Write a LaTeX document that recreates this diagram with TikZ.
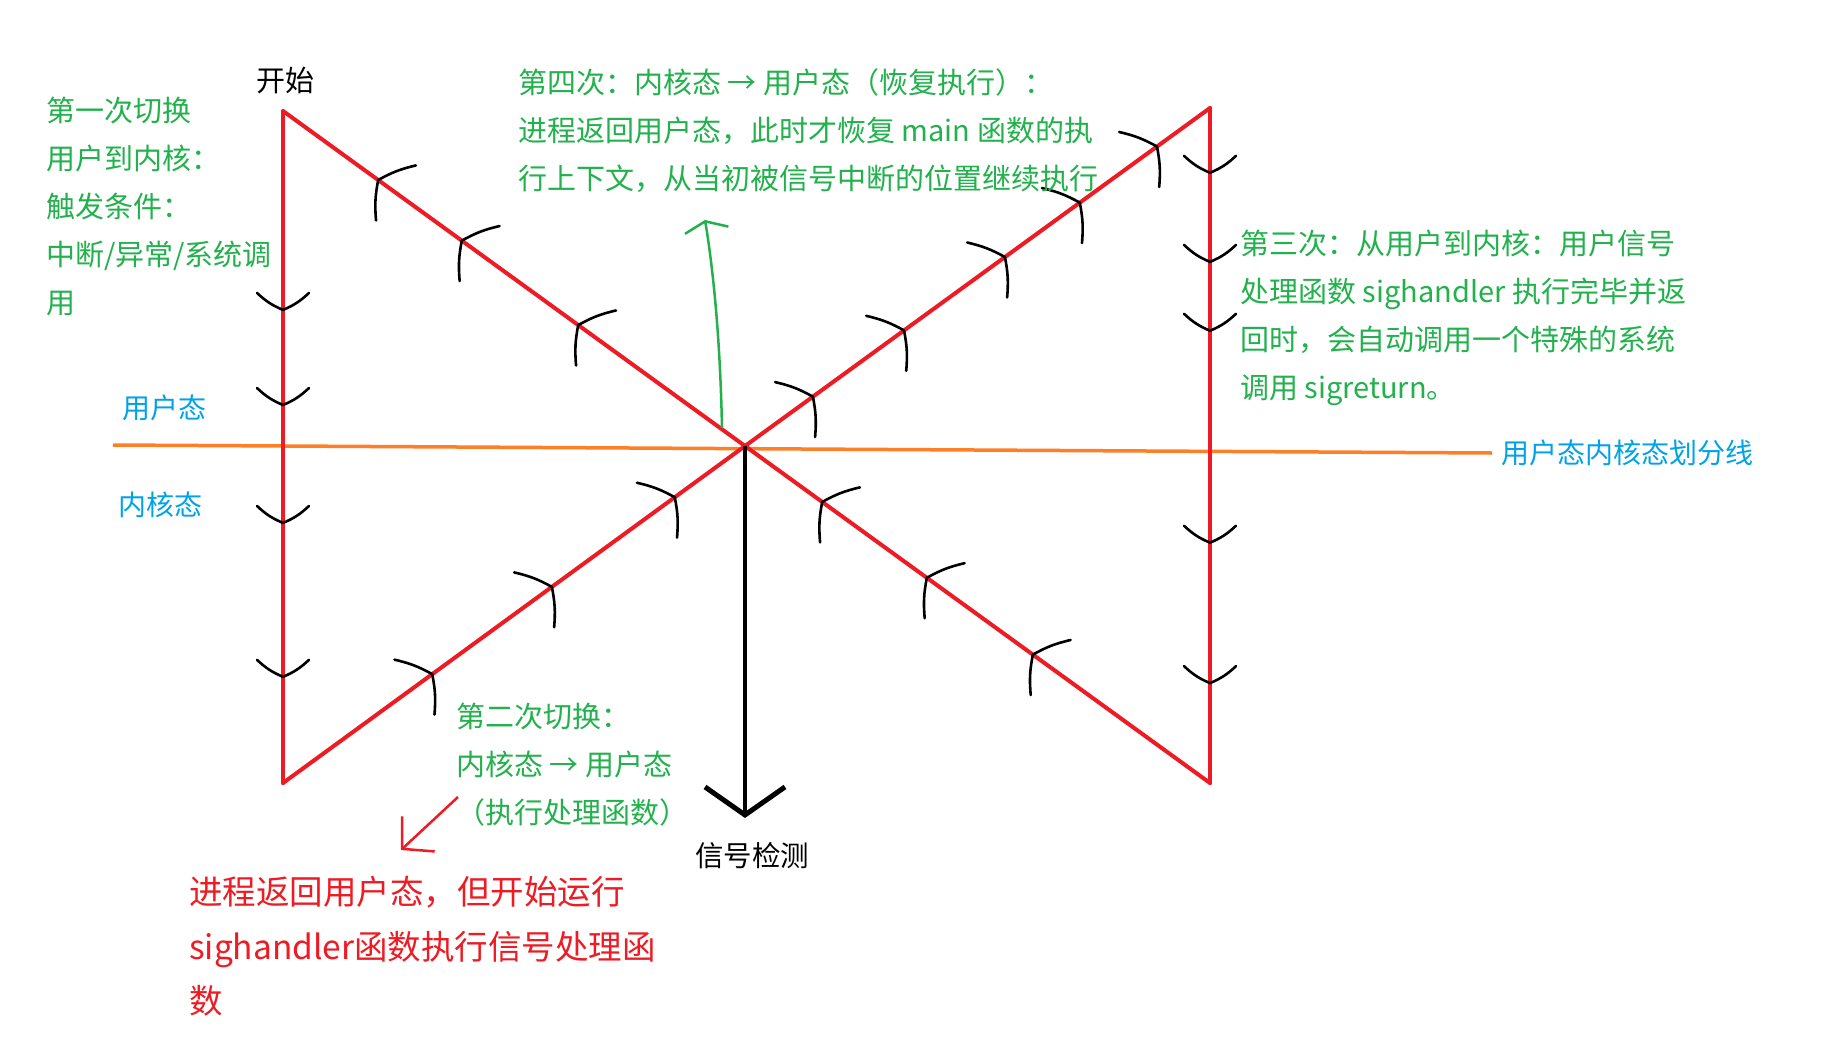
\documentclass[tikz,border=0pt]{standalone}
\usepackage{fontspec}
\setmainfont{Noto Sans CJK SC}
\usepackage{xcolor}
\definecolor{cRed}{HTML}{ED1C24}
\definecolor{cGreen}{HTML}{22B14C}
\definecolor{cBlue}{HTML}{00A2E8}
\definecolor{cOrange}{HTML}{FF7F27}
\usetikzlibrary{arrows.meta,decorations.markings}
\tikzset{
  flow-line/.style={draw=cRed,line width=4pt,line cap=round,line join=round},
  split-line/.style={draw=cOrange,line width=3.5pt},
  chev-line/.style={draw=black,line width=2.6pt,line cap=round,line join=round},
  % 手绘箭头：斜线上的大一些，竖线上的小一些
  chev-diag/.style={postaction={decorate,decoration={markings,
      mark=at position #1 with {\draw[chev-line] (-22pt,34pt) to[bend left=8] (0pt,0pt) to[bend left=8] (-22pt,-34pt);}}}},
  chev-vert/.style={postaction={decorate,decoration={markings,
      mark=at position #1 with {\draw[chev-line] (-17pt,26pt) to[bend left=10] (0pt,0pt) to[bend left=10] (-17pt,-26pt);}}}},
  note-green/.style={text=cGreen,font=\fontsize{29}{48}\selectfont,align=left,inner sep=0pt,anchor=north west},
  note-red/.style={text=cRed,font=\fontsize{33.5}{54.7}\selectfont,align=left,inner sep=0pt,anchor=north west},
  note-blue/.style={text=cBlue,font=\fontsize{28}{34}\selectfont,inner sep=0pt},
  note-black/.style={text=black,font=\fontsize{29}{34}\selectfont,inner sep=0pt},
  signal-arrow/.style={draw=black,line width=4.5pt,-{Straight Barb[length=28pt,width=80pt,line width=5pt]}},
  resume-arrow/.style={draw=cGreen,line width=2.5pt,-{Straight Barb[length=9pt,width=44pt]}},
  hint-arrow/.style={draw=cRed,line width=2.5pt,-{Straight Barb[length=22pt,width=48pt]}},
}

\begin{document}
\begin{tikzpicture}[x=1pt,y=-1pt]
  \path[fill=white,use as bounding box] (0,0) rectangle (1825,1052);
  \coordinate (tl) at (283,111);
  \coordinate (bl) at (283,783);
  \coordinate (ctr) at (745,446);
  \coordinate (tr) at (1210,108);
  \coordinate (br) at (1210,783);

  % 用户态 / 内核态 划分线
  \node[note-blue,anchor=west,outer sep=9pt] (split-lbl) at (1492,453) {用户态内核态划分线};
  \coordinate (split-start) at (113,445);
  \draw[split-line] (split-start) -- (split-lbl.west);
  \node[note-blue] (user-lbl) at (164,408) {用户态};
  \node[note-blue] (kern-lbl) at (160,505) {内核态};

  % 执行流程
  \draw[flow-line,chev-vert/.list={0.296,0.4375,0.613,0.842}] (tl) -- (bl);
  \draw[flow-line,chev-diag/.list={0.323,0.582,0.848}] (bl) -- (ctr);
  \draw[flow-line,chev-diag/.list={0.146,0.342,0.559,0.720,0.886}] (ctr) -- (tr);
  \draw[flow-line,chev-vert/.list={0.096,0.228,0.330,0.644,0.852}] (tr) -- (br);
  \draw[flow-line,chev-diag/.list={0.381,0.609,0.834}] (br) -- (ctr);
  \draw[flow-line,chev-diag/.list={0.361,0.613,0.794}] (ctr) -- (tl);

  \node[note-black] (start-lbl) at (285,81) {开始};
  \node[note-black,font=\fontsize{28.5}{34}\selectfont] (sig-lbl) at (752,856) {信号检测};
  \coordinate (sig-tip) at (745,818);
  \draw[signal-arrow] (ctr) -- (sig-tip);

  \node[note-green] (first) at (46,97) {第一次切换\\用户到内核：\\触发条件：\\中断/异常/系统调\\用};
  \node[note-green] (fourth) at (518,68) {第四次：内核态 → 用户态（恢复执行）：\\进程返回用户态，此时才恢复 main 函数的执\\行上下文，从当初被信号中断的位置继续执行};
  \node[note-green] (third) at (1240,230) {第三次：从用户到内核：用户信号\\处理函数 sighandler 执行完毕并返\\回时，会自动调用一个特殊的系统\\调用 sigreturn。};
  \node[note-green] (second) at (456,703) {第二次切换：\\内核态 → 用户态\\（执行处理函数）};
  \node[note-red] (handler) at (189,876) {进程返回用户态，但开始运行\\sighandler函数执行信号处理函\\数};

  \coordinate (g-start) at (722,428);
  \coordinate (g-tip) at (705,220);
  \draw[resume-arrow] (g-start) .. controls (720,330) and (712,262) .. (g-tip);
  \coordinate (r-start) at (458,797);
  \coordinate (r-tip) at (401,850);
  \draw[hint-arrow] (r-start) -- (r-tip);
\end{tikzpicture}
\end{document}
